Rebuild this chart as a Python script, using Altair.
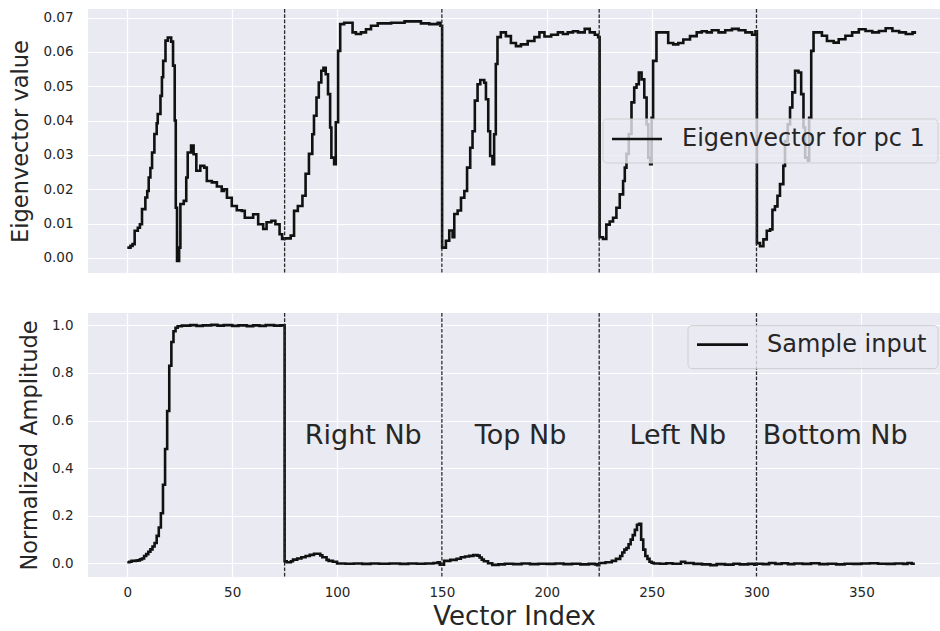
import altair as alt
import pandas as pd

# ---------------- data ----------------
# Top panel: eigenvector for principal component 1
eig_x = [0, 1.5, 2.5, 3.5, 5, 6, 7, 8.6, 9.5, 10.2, 11, 11.8, 12.9, 14, 14.5, 15.8, 16.5, 17.1, 18.2, 19.3,
         20.9, 21.8, 22.6, 23.1, 23.7, 24.7, 25.3, 26.9, 28.1, 28.8, 30.4, 31.6, 32.9, 34.8, 36.7, 37.9, 40.3,
         42.7, 45, 46, 47.5, 49.8, 52.2, 54.6, 56, 58.4, 60, 62.4, 64.8, 66.4, 68.7, 70.6, 72.6, 73.8, 75,
         77.9, 79.5, 81.3, 83.5, 85, 86.6, 88.2, 89, 90.2, 91.3, 92.5, 93.5, 94.6, 95.7, 96.7, 97.3, 98.6,
         99.4, 100.5, 101.5, 103.4, 105.8, 107.4, 109, 111.4, 113.8, 116.2, 119.4, 122.6, 125.8, 129, 132.2,
         136, 140, 144, 148, 149.3, 150.1, 151.9, 153.5, 155.1, 155.9, 157.5, 159.1, 160.7, 162, 163.5,
         164.6, 165.7, 167, 168.3, 170.2, 171, 172.1, 173, 174.1, 174.9, 175.7, 176.5, 178.1, 180.5, 182.9,
         185.3, 187.7, 190.9, 194.1, 196.5, 198.9, 202.1, 205.3, 207.7, 210, 212.5, 214.9, 218.1, 220.5,
         222.9, 224.5, 225.2, 226.8, 228.4, 230, 231.6, 233.2, 234.8, 236.4, 237.2, 238, 239.1, 240.4,
         241.7, 242.8, 243.9, 245.2, 246.5, 247.6, 248.4, 249.3, 250, 250.7, 252.3, 255.5, 257.9, 260.3,
         262.7, 265.1, 268.3, 271.5, 273.9, 276.3, 278.7, 281.9, 285.1, 288.3, 291.5, 294.7, 297.9, 299.5,
         300.2, 301.7, 303.3, 304.9, 306.5, 307.6, 308.8, 310, 311.2, 312.8, 313.6, 314.9, 316, 317.1,
         318.4, 320, 321.3, 322.4, 323.2, 324.5, 325.1, 326.1, 327.2, 329.6, 331.2, 333.6, 336.8, 339.2,
         342.4, 345.6, 348.8, 352, 355.2, 358.4, 361.6, 364.8, 368, 371.2, 374.4, 375.5]
eig_y = [0.0030, 0.0035, 0.0040, 0.0079, 0.0088, 0.0098, 0.0142, 0.0176, 0.0195, 0.0234, 0.0262, 0.0307,
         0.0361, 0.0392, 0.0419, 0.0472, 0.0526, 0.0574, 0.0633, 0.0642, 0.0630, 0.0560, 0.0400, 0.0146,
         -0.0009, 0.0030, 0.0157, 0.0166, 0.0234, 0.0307, 0.0327, 0.0302, 0.0254, 0.0268, 0.0263, 0.0224,
         0.0220, 0.0208, 0.0195, 0.0200, 0.0175, 0.0151, 0.0139, 0.0137, 0.0117, 0.0117, 0.0127, 0.0098,
         0.0084, 0.0104, 0.0108, 0.0098, 0.0069, 0.0055, 0.0057,
         0.0065, 0.0137, 0.0151, 0.0181, 0.0245, 0.0303, 0.0360, 0.0414, 0.0467, 0.0511, 0.0545, 0.0554,
         0.0535, 0.0477, 0.0380, 0.0292, 0.0273, 0.0395, 0.0603, 0.0681, 0.0685, 0.0685, 0.0657, 0.0652,
         0.0657, 0.0666, 0.0676, 0.0683, 0.0683, 0.0685, 0.0685, 0.0689, 0.0689, 0.0683, 0.0681, 0.0685,
         0.0676, 0.0030, 0.0050, 0.0080, 0.0060, 0.0128, 0.0138, 0.0175, 0.0195, 0.0263, 0.0321, 0.0369,
         0.0458, 0.0506, 0.0518, 0.0510, 0.0462, 0.0369, 0.0297, 0.0273, 0.0360, 0.0565, 0.0643, 0.0657,
         0.0646, 0.0626, 0.0617, 0.0622, 0.0632, 0.0643, 0.0657, 0.0645, 0.0650, 0.0657, 0.0652, 0.0657,
         0.0660, 0.0657, 0.0667, 0.0657, 0.0650, 0.0643, 0.0060, 0.0055, 0.0097, 0.0106, 0.0117, 0.0146,
         0.0185, 0.0224, 0.0263, 0.0303, 0.0361, 0.0453, 0.0496, 0.0506, 0.0540, 0.0520, 0.0467, 0.0389,
         0.0292, 0.0273, 0.0408, 0.0574, 0.0657, 0.0657, 0.0626, 0.0622, 0.0626, 0.0636, 0.0646, 0.0657,
         0.0660, 0.0657, 0.0663, 0.0657, 0.0663, 0.0667, 0.0663, 0.0657, 0.0650, 0.0660, 0.0043, 0.0034,
         0.0054, 0.0079, 0.0083, 0.0140, 0.0150, 0.0181, 0.0215, 0.0268, 0.0340, 0.0389, 0.0438, 0.0482,
         0.0545, 0.0540, 0.0477, 0.0380, 0.0292, 0.0283, 0.0408, 0.0603, 0.0657, 0.0657, 0.0647, 0.0632,
         0.0627, 0.0637, 0.0647, 0.0657, 0.0666, 0.0661, 0.0657, 0.0661, 0.0669, 0.0661, 0.0657, 0.0652,
         0.0657, 0.0652]

# Bottom panel: normalized sample input
amp_x = [0, 1, 2, 4, 5, 6, 7, 8, 9, 10, 11, 12, 13, 14, 15, 16, 17, 18, 19, 20, 21, 22, 23, 24, 26, 30,
         33, 36, 40, 43, 46, 50, 53, 57, 60, 63, 66, 70, 73, 75, 76, 78, 79, 81, 83, 85, 87, 89, 91, 92, 93,
         95, 96, 98, 100, 104, 108, 112, 116, 120, 125, 130, 134, 138, 142, 146, 148, 149, 151, 154, 157,
         159, 161, 163, 165, 167, 168, 169, 170, 172, 174, 177, 180, 184, 188, 192, 196, 200, 204, 208, 212,
         216, 220, 223, 224, 225, 228, 231, 233, 235, 236, 237, 238, 239, 240, 241, 242, 243, 244, 245, 246,
         247, 248, 249, 250, 251, 254, 257, 260, 264, 266, 270, 274, 278, 281, 285, 289, 292, 296, 299, 300,
         303, 306, 309, 312, 315, 318, 322, 326, 330, 334, 338, 342, 346, 350, 354, 358, 362, 366, 370, 372,
         374, 375.5]
amp_y = [0.004, 0.006, 0.010, 0.011, 0.012, 0.016, 0.020, 0.030, 0.038, 0.048, 0.058, 0.070, 0.085, 0.115,
         0.150, 0.210, 0.330, 0.480, 0.640, 0.830, 0.930, 0.975, 0.990, 0.996, 0.999, 1.001, 0.998, 1.000,
         1.002, 0.999, 1.001, 0.998, 1.000, 0.997, 1.000, 0.998, 1.001, 0.999, 1.000, 0.008, 0.004, 0.008,
         0.015, 0.020, 0.025, 0.030, 0.035, 0.040, 0.040, 0.033, 0.025, 0.014, 0.010, 0.006, -0.001, -0.002,
         -0.001, -0.003, -0.001, -0.002, -0.001, -0.003, -0.001, -0.002, -0.001, 0.001, 0.004, -0.006, 0.010,
         0.014, 0.019, 0.025, 0.028, 0.031, 0.034, 0.032, 0.024, 0.015, 0.008, 0.000, -0.007, -0.005, -0.002,
         -0.004, -0.001, -0.004, -0.002, -0.003, -0.001, -0.004, -0.002, -0.005, -0.003, -0.005, -0.008,
         0.001, 0.004, 0.010, 0.018, 0.030, 0.045, 0.057, 0.064, 0.080, 0.099, 0.118, 0.140, 0.162, 0.166,
         0.099, 0.057, 0.030, 0.018, 0.006, 0.002, -0.001, -0.002, 0.000, -0.002, 0.006, 0.001, -0.003,
         -0.005, -0.008, -0.004, -0.006, -0.002, -0.005, -0.003, -0.006, -0.002, -0.004, 0.001, -0.003,
         0.000, -0.004, -0.001, -0.003, 0.000, -0.004, -0.002, -0.005, -0.002, -0.003, -0.001, 0.000, -0.002,
         -0.003, -0.001, -0.003, 0.001, -0.002, -0.002]

boundaries = [75, 150, 225, 300]
region_names = ["Right Nb", "Top Nb", "Left Nb", "Bottom Nb"]
region_centers = [112.5, 187.5, 262.5, 337.5]
region_levels = [0.5, 0.5, 0.5, 0.5]

x_ticks = [0, 50, 100, 150, 200, 250, 300, 350]
eig_ticks = [0.0, 0.01, 0.02, 0.03, 0.04, 0.05, 0.06, 0.07]
amp_ticks = [0.0, 0.2, 0.4, 0.6, 0.8, 1.0]
top_legend = ["Eigenvector for pc 1"]
bottom_legend = ["Sample input"]

# ---------------- tables ----------------
eig_df = pd.DataFrame({"index": eig_x, "value": eig_y})
amp_df = pd.DataFrame({"index": amp_x, "value": amp_y})
bound_df = pd.DataFrame({"boundary": boundaries})
region_df = pd.DataFrame({"name": region_names, "center": region_centers, "level": region_levels})
top_leg_df = pd.DataFrame({"label": top_legend})
bot_leg_df = pd.DataFrame({"label": bottom_legend})

LINE = "#111111"
TEXT = "#262626"
FONT = "DejaVu Sans"
W, H = 852, 264
LW = 2.6

xscale = alt.Scale(domain=[-18.75, 387.5], nice=False, zero=False)


def legend_layers(df, x0, x1, y0, y1, hx0, hx1, hy, tx):
    box = alt.Chart(df).mark_rect(fill="#EAEAF2", fillOpacity=0.8, stroke="#CCCCCC",
                                  strokeOpacity=0.9, strokeWidth=1, cornerRadius=4).encode(
        x=alt.value(x0), x2=alt.value(x1), y=alt.value(y0), y2=alt.value(y1))
    handle = alt.Chart(df).mark_rule(color=LINE, strokeWidth=LW).encode(
        x=alt.value(hx0), x2=alt.value(hx1), y=alt.value(hy))
    label = alt.Chart(df).mark_text(align="left", baseline="middle", font=FONT, fontSize=24,
                                    color=TEXT).encode(
        x=alt.value(tx), y=alt.value(hy), text="label:N")
    return [box, handle, label]


def boundary_rules():
    return alt.Chart(bound_df).mark_rule(color="#2a2a2a", strokeDash=[3.7, 1.6], strokeWidth=1.3).encode(
        x=alt.X("boundary:Q", scale=xscale))


# ---------------- top panel ----------------
top_line = alt.Chart(eig_df).mark_line(interpolate="step-after", color=LINE, strokeWidth=LW).encode(
    x=alt.X("index:Q", scale=xscale,
            axis=alt.Axis(values=x_ticks, labels=False, title=None)),
    y=alt.Y("value:Q", scale=alt.Scale(domain=[-0.0044, 0.0725], nice=False, zero=False),
            axis=alt.Axis(values=eig_ticks, format=".2f", title="Eigenvector value")),
)
top = alt.layer(top_line, boundary_rules(),
                *legend_layers(top_leg_df, 515, 850, 110, 154, 524, 574, 130, 594)).properties(
    width=W, height=H)

# ---------------- bottom panel ----------------
bot_line = alt.Chart(amp_df).mark_line(interpolate="step-after", color=LINE, strokeWidth=LW).encode(
    x=alt.X("index:Q", scale=xscale,
            axis=alt.Axis(values=x_ticks, format="d", title="Vector Index",
                          titleFontSize=26, titlePadding=5)),
    y=alt.Y("value:Q", scale=alt.Scale(domain=[-0.058, 1.052], nice=False, zero=False),
            axis=alt.Axis(values=amp_ticks, format=".1f", title="Normalized Amplitude")),
)
bot_text = alt.Chart(region_df).mark_text(align="center", baseline="alphabetic", font=FONT,
                                          fontSize=27, color=TEXT).encode(
    x=alt.X("center:Q", scale=xscale), y="level:Q", text="name:N")
bottom = alt.layer(bot_line, boundary_rules(), bot_text,
                   *legend_layers(bot_leg_df, 600, 850, 12.6, 55.6, 609, 660, 31.6, 679)).properties(
    width=W, height=H)

chart = alt.vconcat(top, bottom, spacing=38).properties(
    padding={"left": 9, "top": 8, "right": 0, "bottom": 0},
    background="white",
).configure_view(
    fill="#EAEAF2", stroke=None
).configure_axis(
    domain=False, ticks=False, tickSize=0, grid=True, gridColor="white", gridWidth=1.2,
    labelFont=FONT, labelFontSize=13.5, labelColor=TEXT,
    titleFont=FONT, titleFontSize=22.5, titleFontWeight="normal", titleColor=TEXT,
).configure_axisY(
    labelPadding=15, titlePadding=10
).configure_axisX(
    labelPadding=8
)

chart.save("out.html", embed_options={"renderer": "svg", "actions": False})
